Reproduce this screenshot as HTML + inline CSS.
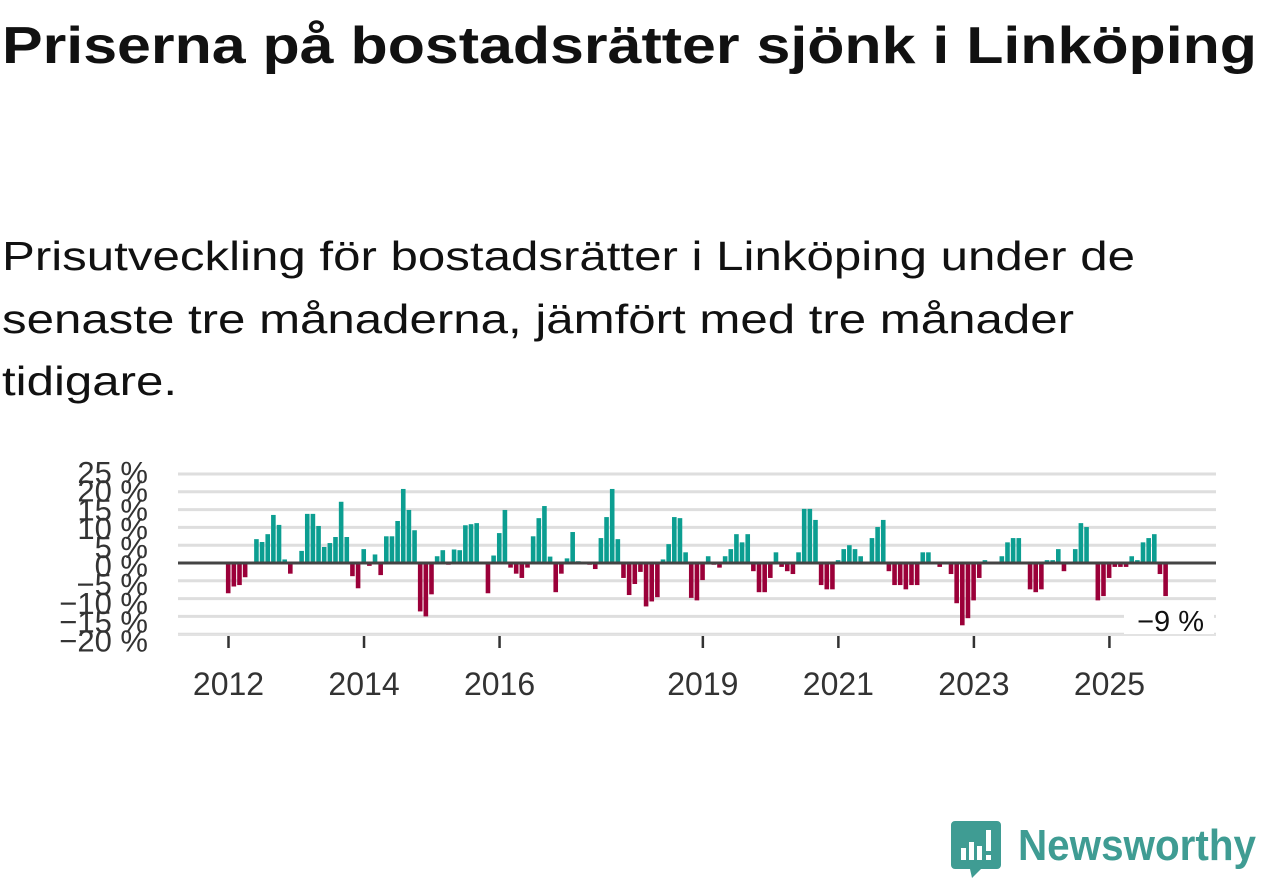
<!DOCTYPE html>
<html><head><meta charset="utf-8"><style>
html,body{margin:0;padding:0;background:#fff;}
svg{display:block;}
</style></head><body>
<svg id="chart" width="1262" height="879" xmlns="http://www.w3.org/2000/svg" font-family="'Liberation Sans', 'DejaVu Sans', sans-serif">
<text x="2" y="63" font-size="52" font-weight="bold" fill="#111" textLength="1255" lengthAdjust="spacingAndGlyphs">Priserna på bostadsrätter sjönk i Linköping</text>
<g font-size="41" fill="#111">
<text x="2" y="270" textLength="1133" lengthAdjust="spacingAndGlyphs">Prisutveckling för bostadsrätter i Linköping under de</text>
<text x="2" y="333" textLength="1072" lengthAdjust="spacingAndGlyphs">senaste tre månaderna, jämfört med tre månader</text>
<text x="2" y="395" textLength="175" lengthAdjust="spacingAndGlyphs">tidigare.</text>
</g>
<g id="grid"></g>
<g id="ylabels"></g>
<g id="bars"></g>
<g id="xaxis"></g>
<g>
<rect x="1124" y="604" width="90" height="30" fill="#fff"/>
<text x="1204" y="631" font-size="29" text-anchor="end" fill="#111">−9 %</text>
</g>
<g>
<path d="M955 821 h42 a4 4 0 0 1 4 4 v40 a4 4 0 0 1 -4 4 h-16 l-9 9 l-2 -9 h-15 a4 4 0 0 1 -4 -4 v-40 a4 4 0 0 1 4 -4z" fill="#3f9c93"/>
<rect x="961" y="848" width="5" height="12" fill="#fff"/>
<rect x="969" y="842" width="5" height="18" fill="#fff"/>
<rect x="977" y="846" width="5" height="14" fill="#fff"/>
<rect x="986" y="830" width="5" height="21" fill="#fff"/>
<rect x="986" y="855" width="5" height="5" fill="#fff"/>
<text x="1018" y="860" font-size="44" font-weight="bold" fill="#3f9c93" textLength="238" lengthAdjust="spacingAndGlyphs">Newsworthy</text>
</g>
<script>
const values = [-8.5,-6.6,-6.2,-4,0,6.7,5.9,8.1,13.5,10.7,1,-3,0,3.4,13.8,13.8,10.4,4.5,5.6,7.3,17.2,7.3,-3.7,-7.1,3.9,-0.8,2.4,-3.4,7.5,7.5,11.8,20.8,14.9,9.2,-13.6,-15,-8.8,1.9,3.6,-0.5,
3.8,3.6,10.6,10.9,11.2,0,-8.5,2.1,8.4,14.9,-1.3,-3,-4.2,-1.3,7.5,12.6,16,1.8,-8.2,-3,1.3,8.7,0.5,0,-0.5,-1.7,7,12.9,20.8,6.7,-4.2,-9,-5.9,-2.5,-12.2,-10.8,-9.6,1,5.3,12.9,12.6,3,-9.8,-10.5,-4.8,1.9,
-0.5,-1.3,1.9,3.9,8.1,5.8,8.1,-2.3,-8.2,-8.2,-4.2,3,-1.1,-2.3,-3.1,3,15.2,15.2,12.1,-6.2,-7.4,-7.4,0.8,3.9,5,3.9,1.9,0,7,10.1,12.1,-2.3,-6.2,-6.2,-7.4,-6.2,-6.2,3,3,0,-1.1,0,-3.1,-11.3,-17.5,-15.5,
-10.5,-4.2,0.8,0,0,1.9,5.8,7,7,0,-7.4,-8.2,-7.4,0.8,0.8,3.9,-2.3,0,3.9,11.2,10.1,0,-10.5,-9.3,-4.2,-1.1,-1.1,-1.1,1.9,0.8,5.8,7,8.1,-3.1,-9.3];
const startYear = 2012;
const yTicks = [25,20,15,10,5,0,-5,-10,-15,-20];
const yTickLabels = ["25 %","20 %","15 %","10 %","5 %","0 %","−5 %","−10 %","−15 %","−20 %"];
const xTickYears = [2012,2014,2016,2019,2021,2023,2025];

const NS='http://www.w3.org/2000/svg';
const X0=178, X1=1216;
function y(v){return 563 - v*3.56;}
function xm(m){return 228.5 + m*5.647;}
function xYear(yr){return xm((yr-startYear)*12);}
function mk(tag,attrs,parent){const e=document.createElementNS(NS,tag);for(const k in attrs)e.setAttribute(k,attrs[k]);parent.appendChild(e);return e;}
const grid=document.getElementById('grid'), yl=document.getElementById('ylabels'), bars=document.getElementById('bars'), xa=document.getElementById('xaxis');
yTicks.forEach((t,i)=>{
  if(t!==0){const l=mk('line',{x1:X0,x2:X1,y1:y(t),y2:y(t),stroke:'#dedede','stroke-width':3},grid);
  
  }
  const tx=mk('text',{x:148,y:y(t)+9+i*0.9,'font-size':31,'text-anchor':'end',fill:'#333'},yl);
  tx.textContent=yTickLabels[i];
  
  
});
const base=mk('line',{x1:X0,x2:X1,y1:635,y2:635,stroke:'#e3e3e3','stroke-width':2},xa);


values.forEach((v,i)=>{
  const x=xm(i)-2.6, top=Math.min(y(v),y(0)), h=Math.abs(y(v)-y(0));
  const r=mk('rect',{x:x,y:top,width:4.6,height:h,fill:v>=0?'#0c9e91':'#9b0039'},bars);
  
  
});
const zl=mk('line',{x1:X0,x2:X1,y1:y(0),y2:y(0),stroke:'#444','stroke-width':3},grid.parentNode);
grid.parentNode.insertBefore(zl, xa);


xTickYears.forEach(yr=>{
  const tk=mk('line',{x1:xYear(yr),x2:xYear(yr),y1:636,y2:648,stroke:'#333','stroke-width':2.5},xa);
  
  
  const t=mk('text',{x:xYear(yr),y:695,'font-size':32,'text-anchor':'middle',fill:'#333'},xa);
  t.textContent=yr;
  
  
});
</script>
</svg>
</body></html>
